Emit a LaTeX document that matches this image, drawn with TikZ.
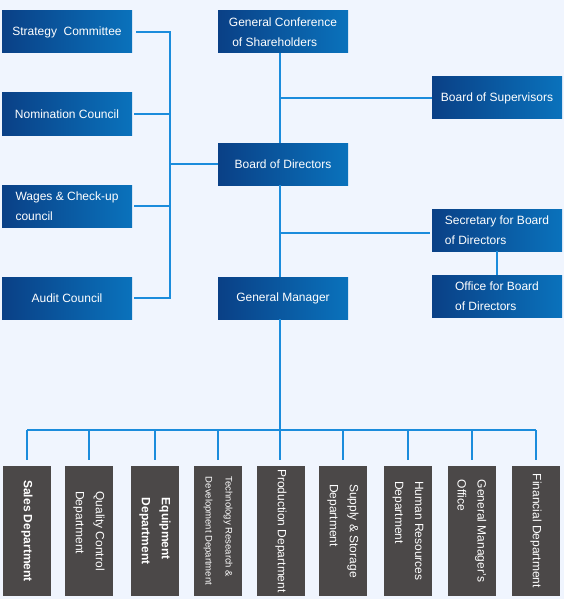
\documentclass[tikz,border=0pt]{standalone}
\usepackage{fontspec}
\setmainfont{Liberation Sans}
\definecolor{bgc}{HTML}{F0F5FE}
\definecolor{navyL}{HTML}{0A4086}
\definecolor{navyR}{HTML}{0A72BC}
\definecolor{deptgray}{HTML}{4B4848}
\definecolor{linec}{HTML}{1B8CDC}
\begin{document}
\begin{tikzpicture}[x=1pt,y=-1pt,
  bluebox/.style={left color=navyL, right color=navyR, minimum width=130pt, minimum height=42pt,
    inner sep=0pt, text=white, font=\fontsize{12}{20}\selectfont, align=center},
  deptbox/.style={fill=deptgray, rotate=-90, minimum width=130pt, minimum height=48pt,
    inner sep=0pt, text=white, font=\fontsize{12}{20}\selectfont, align=left},
  conn/.style={draw=linec, line width=2pt}]
\fill[bgc] (0,0) rectangle (564,599);
% left committees
\node[bluebox] (st) at (67,32) {Strategy~~Committee};
\node[bluebox] (nc) at (67,114) {Nomination Council};
\node[bluebox, align=left] (wc) at (67,206) {Wages \& Check-up\\council};
\node[bluebox] (au) at (67,298) {Audit Council};
% centre
\node[bluebox, align=left] (gc) at (283,32) {General Conference\\\ of Shareholders};
\node[bluebox] (bod) at (283,164) {Board of Directors};
\node[bluebox] (gm) at (283,298) {General Manager};
% right
\node[bluebox] (bos) at (497,98) {Board of Supervisors};
\node[bluebox, align=left] (sec) at (497,230) {Secretary for Board\\of Directors};
\node[bluebox, align=left] (off) at (497,296) {Office for Board\\of Directors};
% departments
\node[deptbox] (d1) at (27,531) {\bfseries Sales Department};
\node[deptbox] (d2) at (89,531) {Quality Control\\Department};
\node[deptbox] (d3) at (155,531) {\bfseries Equipment\\\bfseries Department};
\node[deptbox, font=\fontsize{9.5}{20}\selectfont] (d4) at (218,531) {Technology Research \&\\Development Department};
\node[deptbox] (d5) at (281,531) {Production Department};
\node[deptbox] (d6) at (343,531) {Supply \& Storage\\Department};
\node[deptbox] (d7) at (408,531) {Human Resources\\Department};
\node[deptbox] (d8) at (472,531) {General Manager’s\\Office};
\node[deptbox] (d9) at (536,531) {Financial Department};
% helper coordinates
\coordinate (lbus) at (170,0);
\coordinate (spine) at (280,0);
\coordinate (bus) at (0,430);
% left connectors
\draw[conn] ([xshift=4pt]st.east) -- (st.east -| lbus) -- (au.east -| lbus) -- ([xshift=2pt]au.east);
\draw[conn] ([xshift=2pt]nc.east) -- (nc.east -| lbus);
\draw[conn] ([xshift=2pt]wc.east) -- (wc.east -| lbus);
\draw[conn] (lbus |- bod.west) -- (bod.west);
% centre spine
\draw[conn] (gc.south -| spine) -- (bod.north -| spine);
\draw[conn] (bod.south -| spine) -- (gm.north -| spine);
\draw[conn] (gm.south -| spine) -- (spine |- bus);
\draw[conn] (spine |- bos.west) -- (bos.west);
\draw[conn] ([yshift=-3pt]sec.west -| spine) -- ([xshift=-2pt,yshift=-3pt]sec.west);
\draw[conn] (sec.south) -- (off.north);
% department bus
\draw[conn] (d1.west |- bus) -- (d9.west |- bus);
\foreach \d in {d1,d2,d3,d4,d6,d7,d8,d9}{
  \draw[conn] (\d.west |- bus) -- ([yshift=6pt]\d.west);
}
\draw[conn] (spine |- bus) -- ([yshift=6pt]d5.west -| spine);
\end{tikzpicture}
\end{document}
